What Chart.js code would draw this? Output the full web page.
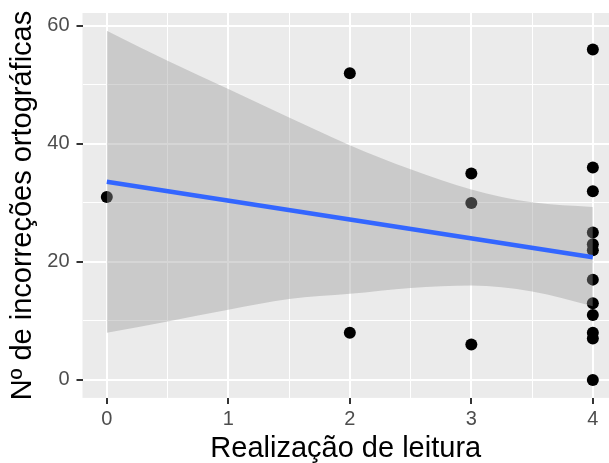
<!DOCTYPE html>
<html>
<head>
<meta charset="utf-8">
<script src="https://cdn.jsdelivr.net/npm/chart.js@4"></script>
<style>
  html, body { margin:0; padding:0; background:#fff; overflow:hidden; }
</style>
</head>
<body>
<canvas id="grafica" width="609" height="463"></canvas>
<script>
// dados
const leitura = [0, 2, 2, 3, 3, 3, 4, 4, 4, 4, 4, 4, 4, 4, 4, 4, 4, 4];
const incorrecoes = [31, 52, 8, 35, 30, 6, 56, 36, 32, 25, 23, 22, 17, 13, 11, 8, 7, 0];

const ajusteX = [0, 4];
const ajusteY = [33.6, 20.8];

const bandaX = [0, 0.5, 1, 1.5, 2, 2.5, 3, 3.5, 4];
const bandaSup = [59.2, 54.1, 49.3, 44.5, 39.8, 35.7, 32.3, 30.1, 29.3];
const bandaInf = [8.0, 9.9, 11.9, 13.7, 14.6, 15.6, 16.0, 15.0, 12.5];

const ticksX = [0, 1, 2, 3, 4];
const ticksXMenor = [0.5, 1.5, 2.5, 3.5];
const ticksY = [0, 20, 40, 60];
const ticksYMenor = [10, 30, 50];

const pares = (xs, ys) => xs.map((x, i) => ({ x, y: ys[i] }));

const fundoPainel = {
  id: 'fundoPainel',
  beforeDraw(chart){
    const a = chart.chartArea, ctx = chart.ctx;
    ctx.save();
    ctx.fillStyle = '#EBEBEB';
    ctx.fillRect(a.left, a.top, a.right - a.left, a.bottom - a.top);
    ctx.restore();
  }
};

function eixo(maiores, menores, min, max, titulo, padTicks, padTitulo, tamanho){
  return {
    type: 'linear',
    min, max,
    afterBuildTicks(scale){
      scale.ticks = maiores.concat(menores).sort((a,b)=>a-b).map(v => ({ value: v }));
    },
    afterFit(scale){
      // sem folgas automáticas, tamanho fixo do eixo
      scale.paddingTop = 0; scale.paddingBottom = 0;
      scale.paddingLeft = 0; scale.paddingRight = 0;
      if(scale.isHorizontal()) scale.height = tamanho;
      else scale.width = tamanho;
    },
    ticks: {
      color: '#4D4D4D',
      font: { family: 'Liberation Sans', size: 20 },
      padding: padTicks,
      autoSkip: false,
      maxRotation: 0,
      callback: v => maiores.includes(v) ? String(v) : ''
    },
    grid: {
      color: '#FFFFFF',
      lineWidth: c => (c.tick && maiores.includes(c.tick.value)) ? 2 : 1,
      tickColor: c => (c.tick && maiores.includes(c.tick.value)) ? '#333333' : 'rgba(0,0,0,0)',
      tickWidth: 2,
      tickLength: 6,
      drawTicks: true
    },
    border: { display: false },
    title: {
      display: true,
      text: titulo,
      color: '#000000',
      font: { family: 'Liberation Sans', size: 29, lineHeight: 1 },
      padding: padTitulo
    }
  };
}

new Chart(document.getElementById('grafica'), {
  type: 'scatter',
  data: {
    datasets: [
      {
        label: 'ajuste',
        type: 'line',
        data: pares(ajusteX, ajusteY),
        borderColor: '#3366FF',
        borderWidth: 4.5,
        pointRadius: 0,
        fill: false,
        order: 0
      },
      {
        label: 'ic_sup',
        type: 'line',
        data: pares(bandaX, bandaSup),
        borderWidth: 0,
        borderColor: 'rgba(0,0,0,0)',
        backgroundColor: 'rgba(153,153,153,0.4)',
        pointRadius: 0,
        cubicInterpolationMode: 'monotone',
        fill: '+1',
        order: 1
      },
      {
        label: 'ic_inf',
        type: 'line',
        data: pares(bandaX, bandaInf),
        borderWidth: 0,
        borderColor: 'rgba(0,0,0,0)',
        pointRadius: 0,
        cubicInterpolationMode: 'monotone',
        fill: false,
        order: 2
      },
      {
        label: 'pontos',
        data: pares(leitura, incorrecoes),
        backgroundColor: '#000000',
        borderWidth: 0,
        pointRadius: 6,
        order: 3
      }
    ]
  },
  options: {
    responsive: false,
    animation: false,
    layout: { autoPadding: false, padding: { top: 13, left: 8.8, right: 0, bottom: 0 } },
    plugins: {
      legend: { display: false },
      tooltip: { enabled: false }
    },
    scales: {
      x: eixo(ticksX, ticksXMenor, -0.2, 4.133, 'Realização de leitura', 3.7, { top: 2.4, bottom: 0 }, 65.1),
      y: eixo(ticksY, ticksYMenor, -3.05, 62.2, 'Nº de incorreções ortográficas', 7, { top: 0, bottom: 9.7 }, 73.7)
    }
  },
  plugins: [fundoPainel]
});
</script>
</body>
</html>
